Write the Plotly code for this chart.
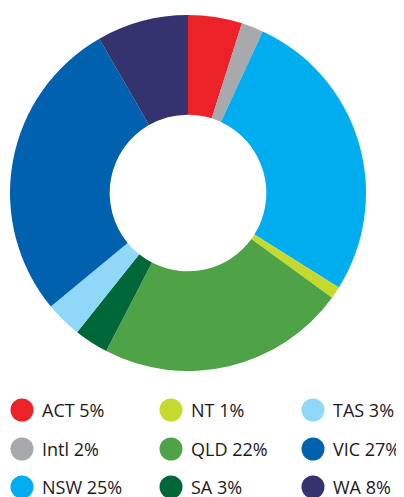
import plotly.graph_objects as go

# Data
labels = ["ACT", "Intl", "NSW", "NT", "QLD", "SA", "TAS", "VIC", "WA"]
values = [4.9, 2.0, 27.0, 1.1, 22.6, 3.1, 3.3, 27.7, 8.3]
legend_pct = ["5%", "2%", "25%", "1%", "22%", "3%", "3%", "27%", "8%"]
colors = ["#ED2128", "#A7A9AC", "#00AEEF", "#C5D92F", "#4EA346",
          "#006838", "#8FD8F8", "#0061AF", "#35336F"]

OFF = 8  # page body margin
W, H = 404 - OFF, 497 - OFF


def px(x):
    return (x - OFF) / W


def py(y):
    return 1 - (y - OFF) / H


cx, cy, r = 188, 193, 178

fig = go.Figure(go.Pie(
    labels=labels, values=values, sort=False, direction="clockwise",
    rotation=0, hole=0.44, textinfo="none",
    marker=dict(colors=colors, line=dict(width=0)),
    domain=dict(x=[px(cx - r), px(cx + r)], y=[py(cy + r), py(cy - r)]),
    showlegend=False,
))

# Legend laid out in 3 columns, filled column by column
col_circle_x = [22, 171, 313]
col_text_x = [40, 189, 331]
row_y = [410, 449, 487]
rad = 11.5
shapes, annotations = [], []
for i, (lab, pct, col) in enumerate(zip(labels, legend_pct, colors)):
    c, rw = divmod(i, 3)
    x0, y0 = col_circle_x[c], row_y[rw]
    shapes.append(dict(type="circle", xref="paper", yref="paper",
                       x0=px(x0 - rad), x1=px(x0 + rad),
                       y0=py(y0 + rad), y1=py(y0 - rad),
                       fillcolor=col, line=dict(width=0)))
    annotations.append(dict(text=f"{lab} {pct}", x=px(col_text_x[c]), y=py(y0),
                            xref="paper", yref="paper", xanchor="left", yanchor="middle",
                            showarrow=False,
                            font=dict(family="Open Sans", size=18, color="#1A1A1A")))

fig.update_layout(width=W, height=H, margin=dict(l=0, r=0, t=0, b=0),
                  paper_bgcolor="white", plot_bgcolor="white",
                  shapes=shapes, annotations=annotations)
fig.write_html("out.html")
